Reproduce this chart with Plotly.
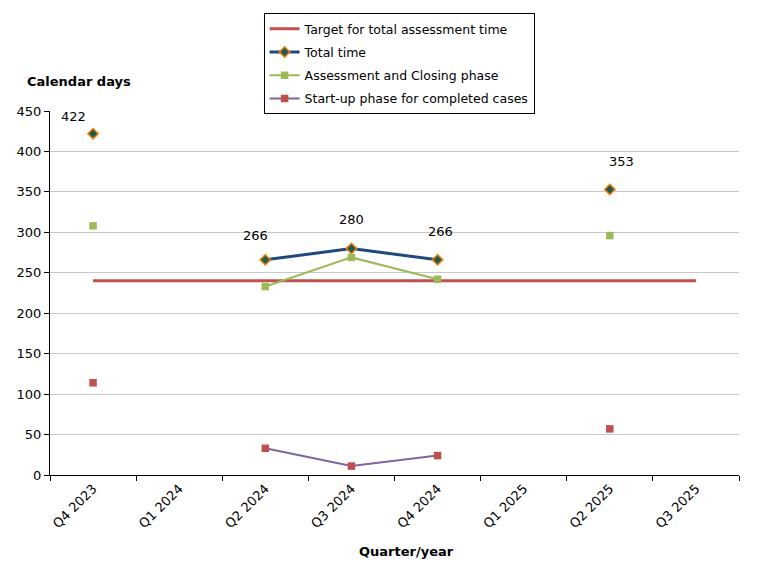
import plotly.graph_objects as go

quarters = ["Q4 2023", "Q1 2024", "Q2 2024", "Q3 2024", "Q4 2024", "Q1 2025", "Q2 2025", "Q3 2025"]
target = [240, 240, 240, 240, 240, 240, 240, 240]
total_time = [422, None, 266, 280, 266, None, 353, None]
assessment_closing = [308, None, 233, 269, 242, None, 296, None]
start_up = [114, None, 33, 11, 24, None, 57, None]

font = "DejaVu Sans, Verdana, sans-serif"

# label offsets (px) for the total time values, as in the original
label_dx = [-20, 0, -10, 0, 3, 0, 12, 0]
label_dy = [17, 0, 24, 29, 28, 0, 28, 0]

fig = go.Figure()
fig.add_trace(go.Scatter(x=quarters, y=target, name="Target for total assessment time",
                         legendgroup="a", mode="lines", line=dict(color="#C0504D", width=3)))
fig.add_trace(go.Scatter(x=quarters, y=total_time, name="Total time", mode="lines+markers",
                         legendgroup="b", line=dict(color="#1F497D", width=3),
                         marker=dict(symbol="diamond", size=8, color="#1E5B4F",
                                     line=dict(color="#F07F09", width=1.5))))
fig.add_trace(go.Scatter(x=quarters, y=assessment_closing, name="Assessment and Closing phase",
                         legendgroup="c", mode="lines+markers", line=dict(color="#9BBB59", width=2),
                         marker=dict(symbol="square", size=7.5, color="#9BBB59")))
fig.add_trace(go.Scatter(x=quarters, y=start_up, name="Start-up phase for completed cases",
                         legendgroup="d", mode="lines+markers", line=dict(color="#8064A2", width=2),
                         marker=dict(symbol="square", size=7.5, color="#C0504D")))

annotations = []
for q, v, dx, dy in zip(quarters, total_time, label_dx, label_dy):
    if v is None:
        continue
    annotations.append(dict(x=q, y=v, text=str(v), showarrow=False, xshift=dx, yshift=dy,
                            font=dict(family=font, size=13, color="black")))
annotations.append(dict(text="<b>Calendar days</b>", xref="paper", yref="paper", x=-0.036, y=1.055,
                        xanchor="left", yanchor="bottom", showarrow=False, font=dict(size=13)))
annotations.append(dict(text="<b>Quarter/year</b>", xref="paper", yref="paper", x=0.518, y=-0.185,
                        xanchor="center", yanchor="top", showarrow=False, font=dict(size=13)))

# page body adds an 8px offset, so the figure is drawn 8px smaller
fig.update_layout(
    width=750, height=563,
    margin=dict(l=42, r=19, t=103, b=96, autoexpand=False),
    paper_bgcolor="white", plot_bgcolor="white",
    font=dict(family=font, size=13, color="black"),
    showlegend=True,
    legend=dict(x=0.310, y=1.269, xanchor="left", yanchor="top",
                bordercolor="black", borderwidth=1, bgcolor="white",
                font=dict(family=font, size=12.5, color="black"),
                traceorder="grouped", tracegroupgap=4, itemwidth=30),
    xaxis=dict(type="category", categoryorder="array", categoryarray=quarters,
               range=[-0.5, 7.5], tickson="boundaries", ticks="outside", ticklen=5,
               tickcolor="black", showline=True, linecolor="black", linewidth=1,
               showgrid=False, tickangle=-45, tickfont=dict(size=13),
               automargin=False, title=None),
    yaxis=dict(range=[0, 450], dtick=50, ticks="outside", ticklen=5, tickcolor="black",
               showline=True, linecolor="black", linewidth=1,
               showgrid=True, gridcolor="#C8C8C8", gridwidth=1, zeroline=False,
               tickfont=dict(size=13), automargin=False),
    annotations=annotations,
)

fig.write_html("out.html")
